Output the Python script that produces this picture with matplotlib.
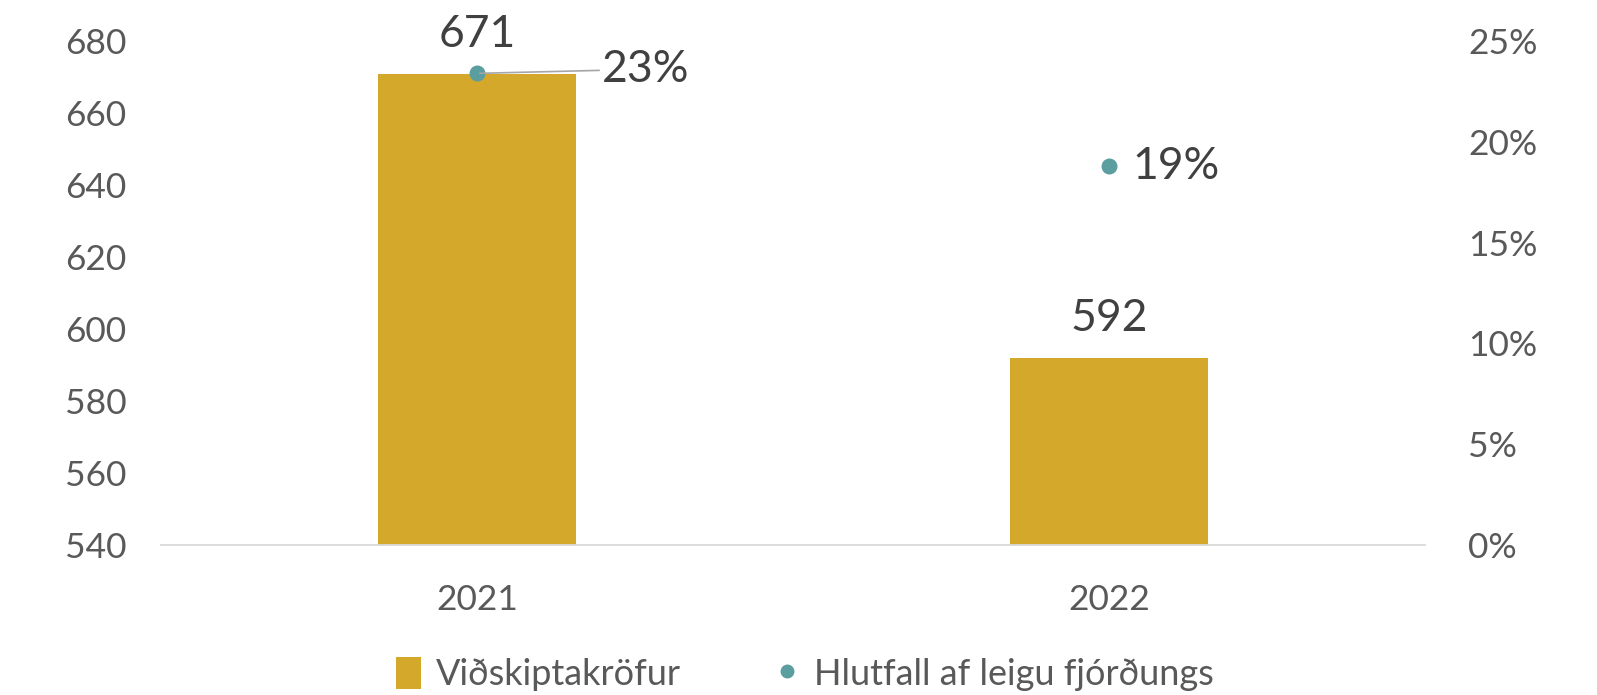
import matplotlib
matplotlib.use("Agg")
import matplotlib.pyplot as plt
from matplotlib.lines import Line2D
from matplotlib.patches import Patch
from matplotlib.ticker import FuncFormatter

plt.rcParams["font.family"] = ["Lato", "DejaVu Sans"]

years = ["2021", "2022"]
receivables = [671, 592]
share_pct = [23.4, 18.8]
share_labels = ["23%", "19%"]
left_ticks = [540, 560, 580, 600, 620, 640, 660, 680]
right_ticks = [0, 5, 10, 15, 20, 25]

BAR = "#D4A82A"
DOT = "#5B9EA0"
TICK = "#595959"
LABEL = "#404040"

fig = plt.figure(figsize=(15.97, 6.95), dpi=100)
ax = fig.add_axes([0.1008, 0.2158, 0.7915, 0.725])
ax2 = ax.twinx()

x = list(range(len(years)))
bars = ax.bar(x, receivables, width=0.314, color=BAR, zorder=2)
ax.set_ylim(540, 680)
ax.set_xlim(-0.5, 1.5)
ax.set_yticks(left_ticks)
ax.set_xticks(x)
ax.set_xticklabels(years)

for b, v in zip(bars, receivables):
    ax.annotate(f"{v}", xy=(b.get_x() + b.get_width() / 2, v),
                xytext=(0, 28), textcoords="offset points",
                ha="center", va="center", fontsize=32, color=LABEL)

ax2.set_ylim(0, 25)
ax2.set_yticks(right_ticks)
ax2.yaxis.set_major_formatter(FuncFormatter(lambda v, _: f"{v:.0f}%"))
ax2.scatter(x, share_pct, s=110, color=DOT, zorder=3)

# first label sits off to the right with a leader line
ax2.annotate(share_labels[0], xy=(x[0], share_pct[0]), xytext=(90, 3),
             textcoords="offset points", ha="left", va="center",
             fontsize=32, color=LABEL,
             arrowprops=dict(arrowstyle="-", color="#A6A6A6", lw=1.2,
                             shrinkA=0, shrinkB=2))
ax2.annotate(share_labels[1], xy=(x[1], share_pct[1]), xytext=(17, 0),
             textcoords="offset points", ha="left", va="center",
             fontsize=32, color=LABEL)

for a in (ax, ax2):
    for s in ("top", "left", "right", "bottom"):
        a.spines[s].set_visible(False)
    a.tick_params(length=0, labelsize=25.5, colors=TICK)
ax.spines["bottom"].set_visible(True)
ax.spines["bottom"].set_color("#D9D9D9")
ax.spines["bottom"].set_linewidth(1.3)
ax.tick_params(axis="y", pad=25)
ax.tick_params(axis="x", pad=28)
ax2.tick_params(axis="y", pad=31)
for t in ax2.get_yticklabels():
    t.set_horizontalalignment("left")

handles = [Patch(facecolor=BAR, edgecolor="none"),
           Line2D([], [], marker="o", ls="none", color=DOT, markersize=9)]
fig.legend(handles, ["Viðskiptakröfur", "Hlutfall af leigu fjórðungs"],
           loc="center", bbox_to_anchor=(0.504, 0.03), ncol=2, frameon=False,
           fontsize=26, labelcolor=TICK, handlelength=0.7, handleheight=1.0,
           handletextpad=0.4, columnspacing=2.6)

fig.savefig("out.png", dpi=100, facecolor="white")
